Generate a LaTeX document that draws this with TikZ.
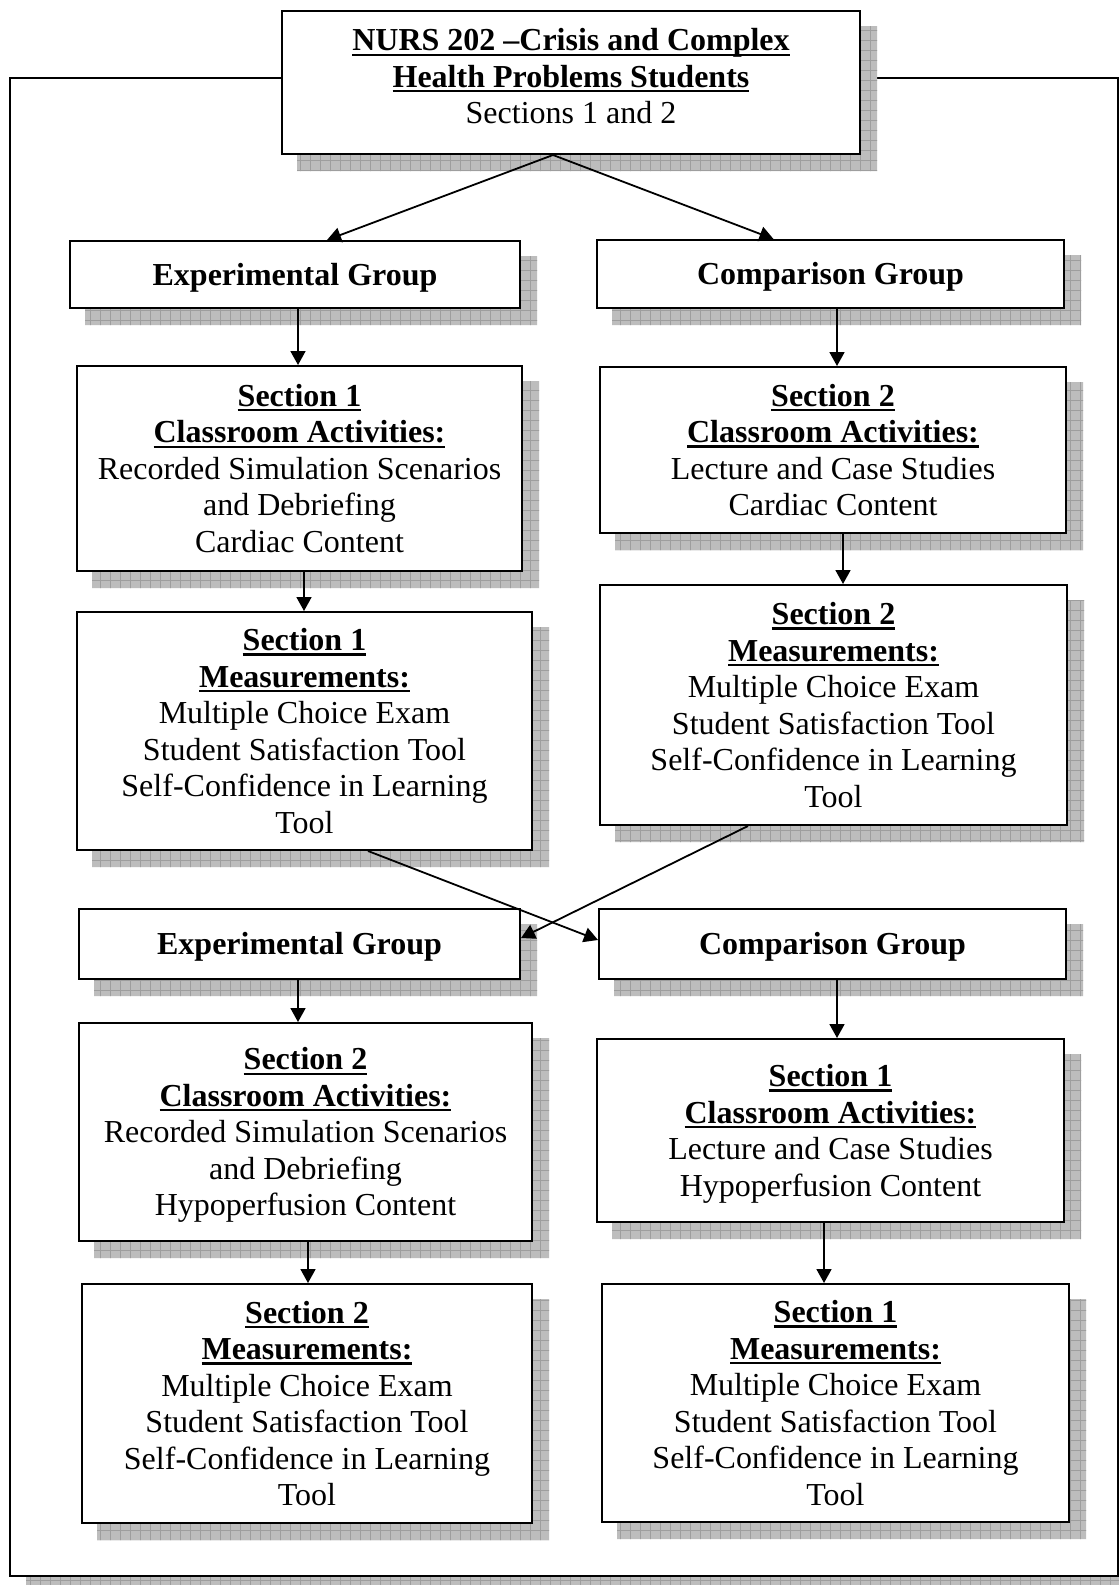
\documentclass[tikz,border=0pt]{standalone}
\usepackage{fontspec}
\setmainfont{Liberation Serif}
\usetikzlibrary{arrows.meta}
\pgfdeclarelayer{bg}
\pgfsetlayers{bg,main}
\newcommand\ulb[1]{\setbox0\hbox{\bfseries #1}\rlap{\rule[-5pt]{\wd0}{2.2pt}}\box0}
\newcommand\fst{\rule{0pt}{28.5pt}}
\newcommand\lst{\rule[-7pt]{0pt}{7pt}}
\tikzset{
  box/.style={draw, line width=2pt, fill=white, inner sep=0pt, align=center,
    font=\fontsize{32}{36.5}\selectfont},
  arr/.style={line width=1.8pt, -{Triangle[length=14pt,width=15pt]}},
  shfill/.style={fill=black!26},
  shline/.style={draw=black!38, line width=0.8pt},
  frame/.style={draw, line width=2.5pt, fill=white}
}
\begin{document}
\begin{tikzpicture}[x=1pt,y=-1pt]
\useasboundingbox (0,0) rectangle (1119,1585);

% boxes
\node[box, minimum width=578pt, minimum height=143pt] (top) at (571,82.5)
  {\fst\ulb{NURS 202 –Crisis and Complex}\\\ulb{Health Problems Students}\\Sections 1 and 2\rule[-19pt]{0pt}{19pt}};
\node[box, minimum width=450pt, minimum height=67pt] (expg1) at (295,274.5)
  {\fst\textbf{Experimental Group}\lst};
\node[box, minimum width=467pt, minimum height=68pt] (compg1) at (830.5,274)
  {\fst\textbf{Comparison Group}\lst};
\node[box, minimum width=445pt, minimum height=205pt] (s1ca) at (299.5,468.5)
  {\fst\ulb{Section 1}\\\ulb{Classroom Activities:}\\Recorded Simulation Scenarios\\and Debriefing\\Cardiac Content\lst};
\node[box, minimum width=466pt, minimum height=166pt] (s2car) at (833,450)
  {\fst\ulb{Section 2}\\\ulb{Classroom Activities:}\\Lecture and Case Studies\\Cardiac Content\lst};
\node[box, minimum width=455pt, minimum height=238pt] (s1meal) at (304.5,731)
  {\fst\ulb{Section 1}\\\ulb{Measurements:}\\Multiple Choice Exam\\Student Satisfaction Tool\\Self-Confidence in Learning\\Tool\lst};
\node[box, minimum width=467pt, minimum height=240pt] (s2mear) at (833.5,705)
  {\fst\ulb{Section 2}\\\ulb{Measurements:}\\Multiple Choice Exam\\Student Satisfaction Tool\\Self-Confidence in Learning\\Tool\lst};
\node[box, minimum width=441pt, minimum height=70pt] (expg2) at (299.5,944)
  {\fst\textbf{Experimental Group}\lst};
\node[box, minimum width=467pt, minimum height=70pt] (compg2) at (832.5,944)
  {\fst\textbf{Comparison Group}\lst};
\node[box, minimum width=453pt, minimum height=218pt] (s2cal) at (305.5,1132)
  {\fst\ulb{Section 2}\\\ulb{Classroom Activities:}\\Recorded Simulation Scenarios\\and Debriefing\\Hypoperfusion Content\lst};
\node[box, minimum width=467pt, minimum height=183pt] (s1car) at (830.5,1130.5)
  {\fst\ulb{Section 1}\\\ulb{Classroom Activities:}\\Lecture and Case Studies\\Hypoperfusion Content\lst};
\node[box, minimum width=450pt, minimum height=239pt] (s2meal) at (307,1403.5)
  {\fst\ulb{Section 2}\\\ulb{Measurements:}\\Multiple Choice Exam\\Student Satisfaction Tool\\Self-Confidence in Learning\\Tool\lst};
\node[box, minimum width=467pt, minimum height=238pt] (s1mear) at (835.5,1403)
  {\fst\ulb{Section 1}\\\ulb{Measurements:}\\Multiple Choice Exam\\Student Satisfaction Tool\\Self-Confidence in Learning\\Tool\lst};

% arrows
\draw[arr] ([xshift=-18pt]top.south) -- ([xshift=32pt]expg1.north);
\draw[arr] ([xshift=-18pt]top.south) -- ([xshift=-57pt]compg1.north);
\draw[arr] ([xshift=3pt]expg1.south) -- ([xshift=3pt]expg1.south |- s1ca.north);
\draw[arr] ([xshift=4.5pt]s1ca.south) -- ([xshift=4.5pt]s1ca.south |- s1meal.north);
\draw[arr] ([xshift=6.5pt]compg1.south) -- ([xshift=6.5pt]compg1.south |- s2car.north);
\draw[arr] ([xshift=10pt]s2car.south) -- ([xshift=10pt]s2car.south |- s2mear.north);
\draw[arr] ([xshift=63.5pt]s1meal.south) -- ([yshift=4pt]compg2.west);
\draw[arr] ([xshift=-85.5pt]s2mear.south) -- ([yshift=6pt]expg2.east);
\draw[arr] ([xshift=-1.5pt]expg2.south) -- ([xshift=-1.5pt]expg2.south |- s2cal.north);
\draw[arr] ([xshift=2.5pt]s2cal.south) -- ([xshift=2.5pt]s2cal.south |- s2meal.north);
\draw[arr] ([xshift=4.5pt]compg2.south) -- ([xshift=4.5pt]compg2.south |- s1car.north);
\draw[arr] ([xshift=-6.5pt]s1car.south) -- ([xshift=-6.5pt]s1car.south |- s1mear.north);

% background: frame and shadows
\begin{pgfonlayer}{bg}
\fill[white] (0,0) rectangle (1119,1585);
\begin{scope}
  \clip (26,94) rectangle (1134,1592);
  \fill[shfill] (0,0) rectangle (1140,1600);
  \foreach \i in {0,10,...,1140} \draw[shline] (\i,0) -- (\i,1600);
  \foreach \j in {0,10,...,1600} \draw[shline] (0,\j) -- (1140,\j);
\end{scope}
\draw[frame] (10,78) rectangle (1118,1576);
\begin{scope}
  \clip \foreach \n in {top,expg1,compg1,s1ca,s2car,s1meal,s2mear,expg2,compg2,s2cal,s1car,s2meal,s1mear}
    {([xshift=16pt,yshift=-16pt]\n.south west) rectangle ([xshift=16pt,yshift=-16pt]\n.north east)};
  \fill[shfill] (0,0) rectangle (1140,1600);
  \foreach \i in {0,10,...,1140} \draw[shline] (\i,0) -- (\i,1600);
  \foreach \j in {0,10,...,1600} \draw[shline] (0,\j) -- (1140,\j);
\end{scope}
\end{pgfonlayer}
\end{tikzpicture}
\end{document}
